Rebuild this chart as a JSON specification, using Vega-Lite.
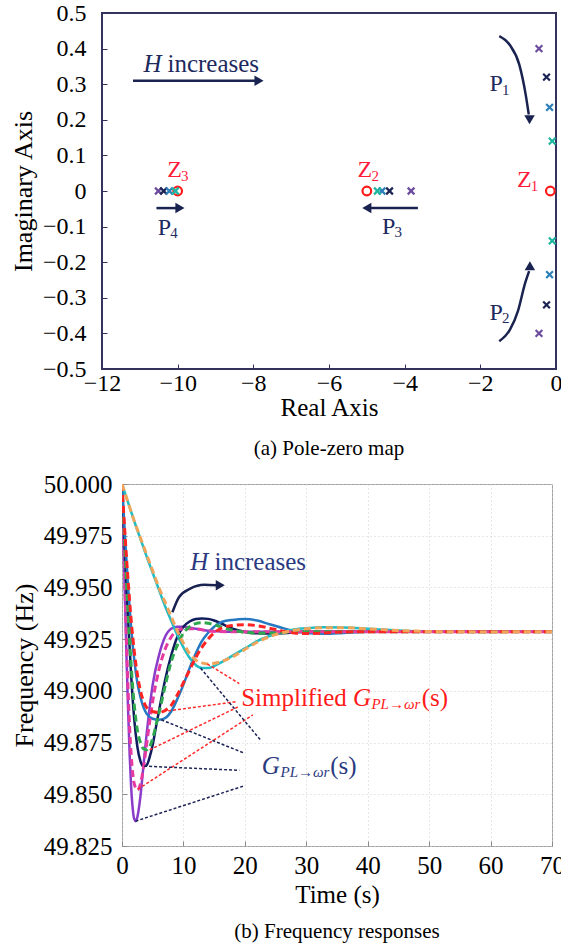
{
 "$schema": "https://vega.github.io/schema/vega-lite/v6.json",
 "background": "white",
 "padding": {"left": 9, "top": 0, "right": 0, "bottom": 0},
 "bounds": "flush",
 "columns": 1,
 "spacing": {"row": 115, "column": 0},
 "config": {
  "font": "Liberation Serif",
  "axis": {"labelFont": "Liberation Serif", "titleFont": "Liberation Serif", "labelColor": "#000", "titleColor": "#000", "titleFontWeight": "normal", "domain": false, "grid": false, "ticks": true, "tickSize": -5, "tickWidth": 1},
  "title": {"font": "Liberation Serif", "fontWeight": "normal", "color": "#000", "fontSize": 21}
 },
 "datasets": {
  "poles": [
   {"x": -0.45, "y": 0.40, "h": "H1"}, {"x": -0.45, "y": -0.40, "h": "H1"}, {"x": -3.83, "y": 0, "h": "H1"}, {"x": -10.51, "y": 0, "h": "H1"},
   {"x": -0.25, "y": 0.32, "h": "H2"}, {"x": -0.25, "y": -0.32, "h": "H2"}, {"x": -4.40, "y": 0, "h": "H2"}, {"x": -10.37, "y": 0, "h": "H2"},
   {"x": -0.17, "y": 0.235, "h": "H3"}, {"x": -0.17, "y": -0.235, "h": "H3"}, {"x": -4.60, "y": 0, "h": "H3"}, {"x": -10.22, "y": 0, "h": "H3"},
   {"x": -0.10, "y": 0.14, "h": "H4"}, {"x": -0.10, "y": -0.14, "h": "H4"}, {"x": -4.72, "y": 0, "h": "H4"}, {"x": -10.06, "y": 0, "h": "H4"}
  ],
  "zeros": [{"x": -0.15, "y": 0}, {"x": -5.0, "y": 0}, {"x": -10.0, "y": 0}],
  "topArrows": [
   {"id": "HI", "o": 1, "x": -11.18, "y": 0.31}, {"id": "HI", "o": 2, "x": -7.95, "y": 0.31},
   {"id": "P1", "o": 1, "x": -1.50, "y": 0.435}, {"id": "P1", "o": 2, "x": -1.22, "y": 0.41}, {"id": "P1", "o": 3, "x": -0.97, "y": 0.355}, {"id": "P1", "o": 4, "x": -0.80, "y": 0.27}, {"id": "P1", "o": 5, "x": -0.72, "y": 0.215},
   {"id": "P2", "o": 1, "x": -1.50, "y": -0.422}, {"id": "P2", "o": 2, "x": -1.22, "y": -0.39}, {"id": "P2", "o": 3, "x": -1.0, "y": -0.335}, {"id": "P2", "o": 4, "x": -0.82, "y": -0.26}, {"id": "P2", "o": 5, "x": -0.71, "y": -0.225},
   {"id": "P3", "o": 1, "x": -3.65, "y": -0.048}, {"id": "P3", "o": 2, "x": -4.92, "y": -0.048},
   {"id": "P4", "o": 1, "x": -10.56, "y": -0.048}, {"id": "P4", "o": 2, "x": -10.02, "y": -0.048}
  ],
  "topHeads": [
   {"x": -7.85, "y": 0.31, "dir": "right"},
   {"x": -0.70, "y": 0.2, "dir": "down"},
   {"x": -0.69, "y": -0.21, "dir": "up"},
   {"x": -5.0, "y": -0.048, "dir": "left"},
   {"x": -9.94, "y": -0.048, "dir": "right"}
  ],
  "topText": [
   {"x": -10.9, "y": 0.356, "text": "H", "kind": "ni"},
   {"x": -10.27, "y": 0.356, "text": "increases", "kind": "nw"},
   {"x": -1.58, "y": 0.30, "text": "P", "kind": "n"}, {"x": -1.33, "y": 0.285, "text": "1", "kind": "ns"},
   {"x": -1.58, "y": -0.343, "text": "P", "kind": "n"}, {"x": -1.33, "y": -0.358, "text": "2", "kind": "ns"},
   {"x": -4.42, "y": -0.101, "text": "P", "kind": "n"}, {"x": -4.17, "y": -0.116, "text": "3", "kind": "ns"},
   {"x": -10.35, "y": -0.103, "text": "P", "kind": "n"}, {"x": -10.10, "y": -0.118, "text": "4", "kind": "ns"},
   {"x": -0.84, "y": 0.030, "text": "Z", "kind": "r"}, {"x": -0.57, "y": 0.015, "text": "1", "kind": "rs"},
   {"x": -5.05, "y": 0.058, "text": "Z", "kind": "r"}, {"x": -4.78, "y": 0.043, "text": "2", "kind": "rs"},
   {"x": -10.08, "y": 0.058, "text": "Z", "kind": "r"}, {"x": -9.81, "y": 0.043, "text": "3", "kind": "rs"}
  ],
  "resp": [
   {"c": "G1", "m": "full", "t": 0, "f": 50.0}, {"c": "G1", "m": "full", "t": 0.25, "f": 49.972}, {"c": "G1", "m": "full", "t": 0.5, "f": 49.943}, {"c": "G1", "m": "full", "t": 0.75, "f": 49.915}, {"c": "G1", "m": "full", "t": 1, "f": 49.89}, {"c": "G1", "m": "full", "t": 1.25, "f": 49.869}, {"c": "G1", "m": "full", "t": 1.5, "f": 49.853}, {"c": "G1", "m": "full", "t": 1.75, "f": 49.843}, {"c": "G1", "m": "full", "t": 2, "f": 49.838}, {"c": "G1", "m": "full", "t": 2.25, "f": 49.837}, {"c": "G1", "m": "full", "t": 2.5, "f": 49.839}, {"c": "G1", "m": "full", "t": 3, "f": 49.849}, {"c": "G1", "m": "full", "t": 3.5, "f": 49.864}, {"c": "G1", "m": "full", "t": 4, "f": 49.879}, {"c": "G1", "m": "full", "t": 4.5, "f": 49.892}, {"c": "G1", "m": "full", "t": 5, "f": 49.903}, {"c": "G1", "m": "full", "t": 6, "f": 49.917}, {"c": "G1", "m": "full", "t": 7, "f": 49.926}, {"c": "G1", "m": "full", "t": 8, "f": 49.93}, {"c": "G1", "m": "full", "t": 9, "f": 49.931}, {"c": "G1", "m": "full", "t": 10, "f": 49.931}, {"c": "G1", "m": "full", "t": 12, "f": 49.93}, {"c": "G1", "m": "full", "t": 14, "f": 49.929}, {"c": "G1", "m": "full", "t": 17, "f": 49.9286}, {"c": "G1", "m": "full", "t": 25, "f": 49.9286}, {"c": "G1", "m": "full", "t": 40, "f": 49.9286}, {"c": "G1", "m": "full", "t": 70, "f": 49.9286},
   {"c": "S1", "m": "sim", "t": 0, "f": 50.0}, {"c": "S1", "m": "sim", "t": 0.25, "f": 49.974}, {"c": "S1", "m": "sim", "t": 0.5, "f": 49.947}, {"c": "S1", "m": "sim", "t": 0.75, "f": 49.922}, {"c": "S1", "m": "sim", "t": 1, "f": 49.9}, {"c": "S1", "m": "sim", "t": 1.25, "f": 49.882}, {"c": "S1", "m": "sim", "t": 1.5, "f": 49.869}, {"c": "S1", "m": "sim", "t": 1.75, "f": 49.86}, {"c": "S1", "m": "sim", "t": 2, "f": 49.855}, {"c": "S1", "m": "sim", "t": 2.5, "f": 49.852}, {"c": "S1", "m": "sim", "t": 3, "f": 49.855}, {"c": "S1", "m": "sim", "t": 3.5, "f": 49.863}, {"c": "S1", "m": "sim", "t": 4, "f": 49.874}, {"c": "S1", "m": "sim", "t": 4.5, "f": 49.885}, {"c": "S1", "m": "sim", "t": 5, "f": 49.895}, {"c": "S1", "m": "sim", "t": 6, "f": 49.91}, {"c": "S1", "m": "sim", "t": 7, "f": 49.92}, {"c": "S1", "m": "sim", "t": 8, "f": 49.926}, {"c": "S1", "m": "sim", "t": 9, "f": 49.929}, {"c": "S1", "m": "sim", "t": 10, "f": 49.93}, {"c": "S1", "m": "sim", "t": 12, "f": 49.93}, {"c": "S1", "m": "sim", "t": 14, "f": 49.929}, {"c": "S1", "m": "sim", "t": 17, "f": 49.9286}, {"c": "S1", "m": "sim", "t": 25, "f": 49.9286}, {"c": "S1", "m": "sim", "t": 40, "f": 49.9286}, {"c": "S1", "m": "sim", "t": 70, "f": 49.9286},
   {"c": "G2", "m": "full", "t": 0, "f": 50.0}, {"c": "G2", "m": "full", "t": 0.5, "f": 49.966}, {"c": "G2", "m": "full", "t": 1, "f": 49.934}, {"c": "G2", "m": "full", "t": 1.5, "f": 49.907}, {"c": "G2", "m": "full", "t": 2, "f": 49.886}, {"c": "G2", "m": "full", "t": 2.5, "f": 49.873}, {"c": "G2", "m": "full", "t": 3, "f": 49.866}, {"c": "G2", "m": "full", "t": 3.5, "f": 49.8635}, {"c": "G2", "m": "full", "t": 4, "f": 49.864}, {"c": "G2", "m": "full", "t": 4.5, "f": 49.868}, {"c": "G2", "m": "full", "t": 5, "f": 49.874}, {"c": "G2", "m": "full", "t": 5.5, "f": 49.882}, {"c": "G2", "m": "full", "t": 6, "f": 49.89}, {"c": "G2", "m": "full", "t": 7, "f": 49.905}, {"c": "G2", "m": "full", "t": 8, "f": 49.917}, {"c": "G2", "m": "full", "t": 9, "f": 49.926}, {"c": "G2", "m": "full", "t": 10, "f": 49.931}, {"c": "G2", "m": "full", "t": 11, "f": 49.9335}, {"c": "G2", "m": "full", "t": 12, "f": 49.9347}, {"c": "G2", "m": "full", "t": 13, "f": 49.935}, {"c": "G2", "m": "full", "t": 14, "f": 49.9348}, {"c": "G2", "m": "full", "t": 15, "f": 49.934}, {"c": "G2", "m": "full", "t": 16, "f": 49.9328}, {"c": "G2", "m": "full", "t": 18, "f": 49.93}, {"c": "G2", "m": "full", "t": 20, "f": 49.9285}, {"c": "G2", "m": "full", "t": 22, "f": 49.9278}, {"c": "G2", "m": "full", "t": 24, "f": 49.9277}, {"c": "G2", "m": "full", "t": 27, "f": 49.928}, {"c": "G2", "m": "full", "t": 30, "f": 49.9286}, {"c": "G2", "m": "full", "t": 45, "f": 49.9286}, {"c": "G2", "m": "full", "t": 70, "f": 49.9286},
   {"c": "S2", "m": "sim", "t": 0, "f": 50.0}, {"c": "S2", "m": "sim", "t": 0.5, "f": 49.967}, {"c": "S2", "m": "sim", "t": 1, "f": 49.937}, {"c": "S2", "m": "sim", "t": 1.5, "f": 49.912}, {"c": "S2", "m": "sim", "t": 2, "f": 49.893}, {"c": "S2", "m": "sim", "t": 2.5, "f": 49.881}, {"c": "S2", "m": "sim", "t": 3, "f": 49.875}, {"c": "S2", "m": "sim", "t": 3.5, "f": 49.872}, {"c": "S2", "m": "sim", "t": 4, "f": 49.8715}, {"c": "S2", "m": "sim", "t": 4.5, "f": 49.873}, {"c": "S2", "m": "sim", "t": 5, "f": 49.877}, {"c": "S2", "m": "sim", "t": 5.5, "f": 49.883}, {"c": "S2", "m": "sim", "t": 6, "f": 49.889}, {"c": "S2", "m": "sim", "t": 7, "f": 49.902}, {"c": "S2", "m": "sim", "t": 8, "f": 49.914}, {"c": "S2", "m": "sim", "t": 9, "f": 49.922}, {"c": "S2", "m": "sim", "t": 10, "f": 49.928}, {"c": "S2", "m": "sim", "t": 11, "f": 49.931}, {"c": "S2", "m": "sim", "t": 12, "f": 49.9325}, {"c": "S2", "m": "sim", "t": 13, "f": 49.933}, {"c": "S2", "m": "sim", "t": 14, "f": 49.9327}, {"c": "S2", "m": "sim", "t": 15, "f": 49.932}, {"c": "S2", "m": "sim", "t": 16, "f": 49.931}, {"c": "S2", "m": "sim", "t": 18, "f": 49.9293}, {"c": "S2", "m": "sim", "t": 20, "f": 49.9283}, {"c": "S2", "m": "sim", "t": 22, "f": 49.9279}, {"c": "S2", "m": "sim", "t": 25, "f": 49.928}, {"c": "S2", "m": "sim", "t": 30, "f": 49.9286}, {"c": "S2", "m": "sim", "t": 45, "f": 49.9286}, {"c": "S2", "m": "sim", "t": 70, "f": 49.9286},
   {"c": "G3", "m": "full", "t": 0, "f": 50.0}, {"c": "G3", "m": "full", "t": 0.5, "f": 49.974}, {"c": "G3", "m": "full", "t": 1, "f": 49.95}, {"c": "G3", "m": "full", "t": 1.5, "f": 49.93}, {"c": "G3", "m": "full", "t": 2, "f": 49.915}, {"c": "G3", "m": "full", "t": 2.5, "f": 49.904}, {"c": "G3", "m": "full", "t": 3, "f": 49.897}, {"c": "G3", "m": "full", "t": 3.5, "f": 49.892}, {"c": "G3", "m": "full", "t": 4, "f": 49.889}, {"c": "G3", "m": "full", "t": 5, "f": 49.8865}, {"c": "G3", "m": "full", "t": 6, "f": 49.886}, {"c": "G3", "m": "full", "t": 7, "f": 49.8868}, {"c": "G3", "m": "full", "t": 8, "f": 49.89}, {"c": "G3", "m": "full", "t": 9, "f": 49.896}, {"c": "G3", "m": "full", "t": 10, "f": 49.903}, {"c": "G3", "m": "full", "t": 11, "f": 49.911}, {"c": "G3", "m": "full", "t": 12, "f": 49.918}, {"c": "G3", "m": "full", "t": 13, "f": 49.924}, {"c": "G3", "m": "full", "t": 14, "f": 49.928}, {"c": "G3", "m": "full", "t": 15, "f": 49.931}, {"c": "G3", "m": "full", "t": 16, "f": 49.933}, {"c": "G3", "m": "full", "t": 18, "f": 49.9343}, {"c": "G3", "m": "full", "t": 20, "f": 49.9347}, {"c": "G3", "m": "full", "t": 22, "f": 49.934}, {"c": "G3", "m": "full", "t": 24, "f": 49.9322}, {"c": "G3", "m": "full", "t": 26, "f": 49.9305}, {"c": "G3", "m": "full", "t": 28, "f": 49.929}, {"c": "G3", "m": "full", "t": 30, "f": 49.928}, {"c": "G3", "m": "full", "t": 33, "f": 49.9276}, {"c": "G3", "m": "full", "t": 36, "f": 49.928}, {"c": "G3", "m": "full", "t": 40, "f": 49.9286}, {"c": "G3", "m": "full", "t": 55, "f": 49.9286}, {"c": "G3", "m": "full", "t": 70, "f": 49.9286},
   {"c": "S3", "m": "sim", "t": 0, "f": 50.0}, {"c": "S3", "m": "sim", "t": 0.5, "f": 49.975}, {"c": "S3", "m": "sim", "t": 1, "f": 49.953}, {"c": "S3", "m": "sim", "t": 1.5, "f": 49.934}, {"c": "S3", "m": "sim", "t": 2, "f": 49.919}, {"c": "S3", "m": "sim", "t": 2.5, "f": 49.908}, {"c": "S3", "m": "sim", "t": 3, "f": 49.9}, {"c": "S3", "m": "sim", "t": 3.5, "f": 49.895}, {"c": "S3", "m": "sim", "t": 4, "f": 49.892}, {"c": "S3", "m": "sim", "t": 5, "f": 49.89}, {"c": "S3", "m": "sim", "t": 6, "f": 49.8895}, {"c": "S3", "m": "sim", "t": 7, "f": 49.8905}, {"c": "S3", "m": "sim", "t": 8, "f": 49.893}, {"c": "S3", "m": "sim", "t": 9, "f": 49.898}, {"c": "S3", "m": "sim", "t": 10, "f": 49.904}, {"c": "S3", "m": "sim", "t": 11, "f": 49.91}, {"c": "S3", "m": "sim", "t": 12, "f": 49.916}, {"c": "S3", "m": "sim", "t": 13, "f": 49.921}, {"c": "S3", "m": "sim", "t": 14, "f": 49.925}, {"c": "S3", "m": "sim", "t": 15, "f": 49.928}, {"c": "S3", "m": "sim", "t": 16, "f": 49.93}, {"c": "S3", "m": "sim", "t": 18, "f": 49.9316}, {"c": "S3", "m": "sim", "t": 20, "f": 49.932}, {"c": "S3", "m": "sim", "t": 22, "f": 49.9315}, {"c": "S3", "m": "sim", "t": 24, "f": 49.9303}, {"c": "S3", "m": "sim", "t": 26, "f": 49.929}, {"c": "S3", "m": "sim", "t": 28, "f": 49.928}, {"c": "S3", "m": "sim", "t": 30, "f": 49.9277}, {"c": "S3", "m": "sim", "t": 33, "f": 49.928}, {"c": "S3", "m": "sim", "t": 36, "f": 49.9285}, {"c": "S3", "m": "sim", "t": 55, "f": 49.9286}, {"c": "S3", "m": "sim", "t": 70, "f": 49.9286},
   {"c": "G4", "m": "full", "t": 0, "f": 50.0}, {"c": "G4", "m": "full", "t": 1, "f": 49.991}, {"c": "G4", "m": "full", "t": 2, "f": 49.982}, {"c": "G4", "m": "full", "t": 3, "f": 49.9735}, {"c": "G4", "m": "full", "t": 4, "f": 49.965}, {"c": "G4", "m": "full", "t": 5, "f": 49.957}, {"c": "G4", "m": "full", "t": 6, "f": 49.949}, {"c": "G4", "m": "full", "t": 7, "f": 49.941}, {"c": "G4", "m": "full", "t": 8, "f": 49.934}, {"c": "G4", "m": "full", "t": 9, "f": 49.927}, {"c": "G4", "m": "full", "t": 10, "f": 49.921}, {"c": "G4", "m": "full", "t": 11, "f": 49.916}, {"c": "G4", "m": "full", "t": 12, "f": 49.9125}, {"c": "G4", "m": "full", "t": 13, "f": 49.911}, {"c": "G4", "m": "full", "t": 14, "f": 49.911}, {"c": "G4", "m": "full", "t": 15, "f": 49.912}, {"c": "G4", "m": "full", "t": 16, "f": 49.9135}, {"c": "G4", "m": "full", "t": 18, "f": 49.917}, {"c": "G4", "m": "full", "t": 20, "f": 49.9205}, {"c": "G4", "m": "full", "t": 22, "f": 49.924}, {"c": "G4", "m": "full", "t": 24, "f": 49.9265}, {"c": "G4", "m": "full", "t": 26, "f": 49.9285}, {"c": "G4", "m": "full", "t": 28, "f": 49.9297}, {"c": "G4", "m": "full", "t": 30, "f": 49.9303}, {"c": "G4", "m": "full", "t": 33, "f": 49.9307}, {"c": "G4", "m": "full", "t": 36, "f": 49.9306}, {"c": "G4", "m": "full", "t": 40, "f": 49.93}, {"c": "G4", "m": "full", "t": 45, "f": 49.9292}, {"c": "G4", "m": "full", "t": 50, "f": 49.9287}, {"c": "G4", "m": "full", "t": 60, "f": 49.9285}, {"c": "G4", "m": "full", "t": 70, "f": 49.9286},
   {"c": "S4", "m": "sim", "t": 0, "f": 50.0}, {"c": "S4", "m": "sim", "t": 1, "f": 49.991}, {"c": "S4", "m": "sim", "t": 2, "f": 49.982}, {"c": "S4", "m": "sim", "t": 3, "f": 49.974}, {"c": "S4", "m": "sim", "t": 4, "f": 49.966}, {"c": "S4", "m": "sim", "t": 5, "f": 49.958}, {"c": "S4", "m": "sim", "t": 6, "f": 49.95}, {"c": "S4", "m": "sim", "t": 7, "f": 49.943}, {"c": "S4", "m": "sim", "t": 8, "f": 49.936}, {"c": "S4", "m": "sim", "t": 9, "f": 49.929}, {"c": "S4", "m": "sim", "t": 10, "f": 49.923}, {"c": "S4", "m": "sim", "t": 11, "f": 49.918}, {"c": "S4", "m": "sim", "t": 12, "f": 49.915}, {"c": "S4", "m": "sim", "t": 13, "f": 49.9135}, {"c": "S4", "m": "sim", "t": 14, "f": 49.913}, {"c": "S4", "m": "sim", "t": 15, "f": 49.9133}, {"c": "S4", "m": "sim", "t": 16, "f": 49.914}, {"c": "S4", "m": "sim", "t": 18, "f": 49.9165}, {"c": "S4", "m": "sim", "t": 20, "f": 49.92}, {"c": "S4", "m": "sim", "t": 22, "f": 49.9235}, {"c": "S4", "m": "sim", "t": 24, "f": 49.9262}, {"c": "S4", "m": "sim", "t": 26, "f": 49.928}, {"c": "S4", "m": "sim", "t": 28, "f": 49.9293}, {"c": "S4", "m": "sim", "t": 30, "f": 49.93}, {"c": "S4", "m": "sim", "t": 33, "f": 49.9305}, {"c": "S4", "m": "sim", "t": 36, "f": 49.9305}, {"c": "S4", "m": "sim", "t": 40, "f": 49.93}, {"c": "S4", "m": "sim", "t": 45, "f": 49.9292}, {"c": "S4", "m": "sim", "t": 50, "f": 49.9287}, {"c": "S4", "m": "sim", "t": 60, "f": 49.9285}, {"c": "S4", "m": "sim", "t": 70, "f": 49.9286}
  ],
  "leaders": [
   {"id": "r1", "col": "red", "o": 1, "t": 13.9, "f": 49.913}, {"id": "r1", "col": "red", "o": 2, "t": 19.1, "f": 49.9035},
   {"id": "r2", "col": "red", "o": 1, "t": 6.7, "f": 49.89}, {"id": "r2", "col": "red", "o": 2, "t": 18.7, "f": 49.8948},
   {"id": "r3", "col": "red", "o": 1, "t": 4.5, "f": 49.8715}, {"id": "r3", "col": "red", "o": 2, "t": 19.0, "f": 49.8924},
   {"id": "r4", "col": "red", "o": 1, "t": 2.6, "f": 49.8525}, {"id": "r4", "col": "red", "o": 2, "t": 21.3, "f": 49.8884},
   {"id": "n1", "col": "navy", "o": 1, "t": 12.8, "f": 49.911}, {"id": "n1", "col": "navy", "o": 2, "t": 22.5, "f": 49.8764},
   {"id": "n2", "col": "navy", "o": 1, "t": 6.4, "f": 49.886}, {"id": "n2", "col": "navy", "o": 2, "t": 19.8, "f": 49.87},
   {"id": "n3", "col": "navy", "o": 1, "t": 3.6, "f": 49.8636}, {"id": "n3", "col": "navy", "o": 2, "t": 19.1, "f": 49.8616},
   {"id": "n4", "col": "navy", "o": 1, "t": 2.2, "f": 49.837}, {"id": "n4", "col": "navy", "o": 2, "t": 19.8, "f": 49.854}
  ],
  "botArrow": [
   {"o": 1, "t": 8.2, "f": 49.938}, {"o": 2, "t": 9.3, "f": 49.9454}, {"o": 3, "t": 11.1, "f": 49.9494}, {"o": 4, "t": 13.4, "f": 49.9513}, {"o": 5, "t": 15.4, "f": 49.951}
  ],
  "botHead": [{"t": 16.0, "f": 49.951, "dir": "right"}],
  "botText": [
   {"t": 11.1, "f": 49.9623, "text": "H", "kind": "ni"},
   {"t": 15.05, "f": 49.9623, "text": "increases", "kind": "n"},
   {"t": 19.4, "f": 49.8964, "text": "Simplified", "kind": "r"},
   {"t": 37.6, "f": 49.8964, "text": "G", "kind": "ri"},
   {"t": 40.6, "f": 49.8937, "text": "PL→ωr", "kind": "rs"},
   {"t": 48.8, "f": 49.8964, "text": "(s)", "kind": "r"},
   {"t": 22.75, "f": 49.8635, "text": "G", "kind": "ni"},
   {"t": 25.8, "f": 49.8608, "text": "PL→ωr", "kind": "ns"},
   {"t": 33.9, "f": 49.8635, "text": "(s)", "kind": "n"}
  ]
 },
 "concat": [
  {
   "width": 454,
   "height": 356,
   "view": {"stroke": "#33335e", "strokeWidth": 2},
   "title": {"text": "(a) Pole-zero map", "orient": "bottom", "offset": 18},
   "encoding": {
    "x": {"field": "x", "type": "quantitative", "scale": {"domain": [-12, 0], "nice": false, "zero": false},
     "axis": {"title": "Real Axis", "values": [-12, -10, -8, -6, -4, -2, 0], "labelFont": "Liberation Serif", "titleFont": "Liberation Serif", "labelPadding": 7, "titlePadding": 0, "labelFlush": false, "labelFontSize": 24, "titleFontSize": 25, "tickColor": "#33335e"}},
    "y": {"field": "y", "type": "quantitative", "scale": {"domain": [-0.5, 0.5], "nice": false, "zero": false},
     "axis": {"title": "Imaginary Axis", "values": [-0.5, -0.4, -0.3, -0.2, -0.1, 0, 0.1, 0.2, 0.3, 0.4, 0.5], "labelExpr": "datum.value == 0 ? '0' : format(datum.value, '.1f')", "labelFont": "Liberation Serif", "titleFont": "Liberation Serif", "labelPadding": 21, "titlePadding": 6, "labelFlush": false, "labelFontSize": 24, "titleFontSize": 26, "tickColor": "#33335e"}}
   },
   "layer": [
    {"data": {"values": [{}]}, "mark": {"type": "rule", "color": "#9a9a9a", "strokeDash": [2, 3], "strokeWidth": 1},
     "encoding": {"x": {"datum": -12, "type": "quantitative"}, "x2": {"datum": 0}, "y": {"datum": 0, "type": "quantitative"}}},
    {"data": {"name": "zeros"}, "mark": {"type": "point", "shape": "circle", "filled": false, "color": "#ff1a1a", "strokeWidth": 2.2, "size": 75, "opacity": 1}},
    {"data": {"name": "poles"}, "mark": {"type": "point", "shape": "M-1,-1L1,1M-1,1L1,-1", "filled": false, "strokeWidth": 2.2, "size": 45, "opacity": 1},
     "encoding": {"color": {"field": "h", "type": "nominal", "legend": null, "scale": {"domain": ["H1", "H2", "H3", "H4"], "range": ["#6d4c9e", "#1c2456", "#2c7fb8", "#1eb5a0"]}}}},
    {"data": {"name": "topArrows"}, "mark": {"type": "line", "color": "#1a2350", "strokeWidth": 2.5, "interpolate": "monotone"},
     "encoding": {"detail": {"field": "id"}, "order": {"field": "o"}}},
    {"data": {"name": "topHeads"}, "mark": {"type": "point", "filled": true, "color": "#1a2350", "size": 110, "opacity": 1},
     "encoding": {"shape": {"field": "dir", "type": "nominal", "legend": null, "scale": {"domain": ["right", "left", "up", "down"], "range": ["triangle-right", "triangle-left", "triangle-up", "triangle-down"]}}}},
    {"data": {"name": "topText"}, "transform": [{"filter": "datum.kind == 'ni'"}], "mark": {"type": "text", "font": "Liberation Serif", "align": "left", "baseline": "middle", "fontSize": 25, "fontStyle": "italic", "color": "#1d2a5e"}, "encoding": {"text": {"field": "text"}}},
    {"data": {"name": "topText"}, "transform": [{"filter": "datum.kind == 'nw'"}], "mark": {"type": "text", "font": "Liberation Serif", "align": "left", "baseline": "middle", "fontSize": 25, "color": "#1d2a5e"}, "encoding": {"text": {"field": "text"}}},
    {"data": {"name": "topText"}, "transform": [{"filter": "datum.kind == 'n'"}], "mark": {"type": "text", "font": "Liberation Serif", "align": "center", "baseline": "middle", "fontSize": 24, "color": "#1d2a5e"}, "encoding": {"text": {"field": "text"}}},
    {"data": {"name": "topText"}, "transform": [{"filter": "datum.kind == 'ns'"}], "mark": {"type": "text", "font": "Liberation Serif", "align": "center", "baseline": "middle", "fontSize": 15, "color": "#1d2a5e"}, "encoding": {"text": {"field": "text"}}},
    {"data": {"name": "topText"}, "transform": [{"filter": "datum.kind == 'r'"}], "mark": {"type": "text", "font": "Liberation Serif", "align": "center", "baseline": "middle", "fontSize": 24, "color": "#ff1a3a"}, "encoding": {"text": {"field": "text"}}},
    {"data": {"name": "topText"}, "transform": [{"filter": "datum.kind == 'rs'"}], "mark": {"type": "text", "font": "Liberation Serif", "align": "center", "baseline": "middle", "fontSize": 15, "color": "#ff1a3a"}, "encoding": {"text": {"field": "text"}}}
   ]
  },
  {
   "bounds": "flush",
   "spacing": 0,
   "hconcat": [
    {"width": 20, "height": 362, "view": {"stroke": null}, "data": {"values": [{}]}, "mark": {"type": "text"}, "encoding": {"text": {"value": ""}}},
    {
     "width": 430,
     "height": 362,
     "view": {"stroke": "#a0a0a0", "strokeWidth": 1},
     "title": {"text": "(b) Frequency responses", "orient": "bottom", "offset": 14},
     "resolve": {"scale": {"color": "independent"}},
     "encoding": {
      "x": {"field": "t", "type": "quantitative", "scale": {"domain": [0, 70], "nice": false, "zero": false},
       "axis": {"title": "Time (s)", "values": [0, 10, 20, 30, 40, 50, 60, 70], "labelFont": "Liberation Serif", "titleFont": "Liberation Serif", "labelPadding": 12, "titlePadding": 4, "labelFlush": false, "labelFontSize": 25, "titleFontSize": 25, "grid": true, "gridColor": "#cfcfcf", "gridDash": [1, 3], "gridWidth": 1, "tickColor": "#8a8a8a"}},
      "y": {"field": "f", "type": "quantitative", "scale": {"domain": [49.825, 50.0], "nice": false, "zero": false},
       "axis": {"title": "Frequency (Hz)", "values": [49.825, 49.85, 49.875, 49.9, 49.925, 49.95, 49.975, 50.0], "format": ".3f", "labelFont": "Liberation Serif", "titleFont": "Liberation Serif", "labelPadding": 15, "titlePadding": 6, "labelFlush": false, "labelFontSize": 25, "titleFontSize": 26, "grid": true, "gridColor": "#cfcfcf", "gridDash": [1, 3], "gridWidth": 1, "tickColor": "#8a8a8a"}}
     },
     "layer": [
      {"data": {"values": [{}]}, "mark": {"type": "rule", "color": "#8a8a8a", "strokeDash": [2, 2], "strokeWidth": 1},
       "encoding": {"x": {"datum": 0, "type": "quantitative"}, "x2": {"datum": 70}, "y": {"datum": 49.9286, "type": "quantitative"}}},
      {"data": {"name": "resp"}, "transform": [{"filter": "datum.m == 'full'"}], "mark": {"type": "line", "strokeWidth": 2.5, "interpolate": "monotone", "clip": true},
       "encoding": {"color": {"field": "c", "type": "nominal", "legend": null, "scale": {"domain": ["G1", "G2", "G3", "G4"], "range": ["#8b3dc9", "#101c5e", "#2479c2", "#21bcc4"]}}}},
      {"data": {"name": "resp"}, "transform": [{"filter": "datum.m == 'sim'"}], "mark": {"type": "line", "strokeWidth": 3, "strokeDash": [7, 4], "interpolate": "monotone", "clip": true},
       "encoding": {"color": {"field": "c", "type": "nominal", "legend": null, "scale": {"domain": ["S1", "S2", "S3", "S4"], "range": ["#e63aa0", "#2fa84f", "#ff2424", "#f2a55a"]}}}},
      {"data": {"name": "leaders"}, "transform": [{"filter": "datum.col == 'red'"}], "mark": {"type": "line", "color": "#ff2a2a", "strokeWidth": 1.5, "strokeDash": [3, 2]},
       "encoding": {"detail": {"field": "id"}, "order": {"field": "o"}}},
      {"data": {"name": "leaders"}, "transform": [{"filter": "datum.col == 'navy'"}], "mark": {"type": "line", "color": "#1c2456", "strokeWidth": 1.5, "strokeDash": [3, 2]},
       "encoding": {"detail": {"field": "id"}, "order": {"field": "o"}}},
      {"data": {"name": "botArrow"}, "mark": {"type": "line", "color": "#1a2350", "strokeWidth": 2.5, "interpolate": "monotone"},
       "encoding": {"order": {"field": "o"}}},
      {"data": {"name": "botHead"}, "mark": {"type": "point", "filled": true, "color": "#1a2350", "size": 110, "opacity": 1, "shape": "triangle-right"}},
      {"data": {"name": "botText"}, "transform": [{"filter": "datum.kind == 'ni'"}], "mark": {"type": "text", "font": "Liberation Serif", "align": "left", "baseline": "middle", "fontSize": 25, "fontStyle": "italic", "color": "#2a3a80"}, "encoding": {"text": {"field": "text"}}},
      {"data": {"name": "botText"}, "transform": [{"filter": "datum.kind == 'n'"}], "mark": {"type": "text", "font": "Liberation Serif", "align": "left", "baseline": "middle", "fontSize": 25, "color": "#2a3a80"}, "encoding": {"text": {"field": "text"}}},
      {"data": {"name": "botText"}, "transform": [{"filter": "datum.kind == 'ns'"}], "mark": {"type": "text", "font": "Liberation Serif", "align": "left", "baseline": "middle", "fontSize": 15, "fontStyle": "italic", "color": "#2a3a80"}, "encoding": {"text": {"field": "text"}}},
      {"data": {"name": "botText"}, "transform": [{"filter": "datum.kind == 'r'"}], "mark": {"type": "text", "font": "Liberation Serif", "align": "left", "baseline": "middle", "fontSize": 25, "color": "#ff1a1a"}, "encoding": {"text": {"field": "text"}}},
      {"data": {"name": "botText"}, "transform": [{"filter": "datum.kind == 'ri'"}], "mark": {"type": "text", "font": "Liberation Serif", "align": "left", "baseline": "middle", "fontSize": 25, "fontStyle": "italic", "color": "#ff1a1a"}, "encoding": {"text": {"field": "text"}}},
      {"data": {"name": "botText"}, "transform": [{"filter": "datum.kind == 'rs'"}], "mark": {"type": "text", "font": "Liberation Serif", "align": "left", "baseline": "middle", "fontSize": 15, "fontStyle": "italic", "color": "#ff1a1a"}, "encoding": {"text": {"field": "text"}}}
     ]
    }
   ]
  }
 ]
}
